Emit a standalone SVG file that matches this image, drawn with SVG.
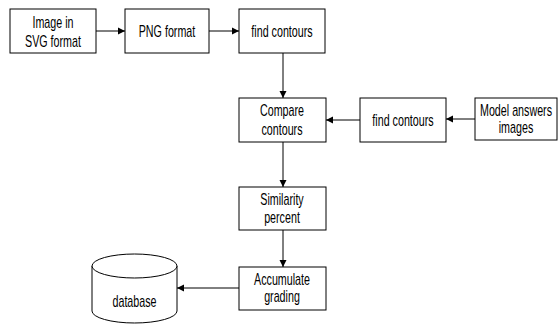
<svg xmlns="http://www.w3.org/2000/svg" width="560" height="325" viewBox="0 0 560 325">
<style>
.b{fill:#fff;stroke:#000;stroke-width:1}
.t{font-family:"Liberation Sans",Arial,sans-serif;font-size:16px;fill:#000;text-anchor:middle}
.c{stroke:#000;stroke-width:1;fill:none;marker-end:url(#a)}
</style>
<defs><marker id="a" markerWidth="8" markerHeight="8" refX="7" refY="4" orient="auto" markerUnits="userSpaceOnUse"><path d="M0,0.5 L7,4 L0,7.5 Z" fill="#000"/></marker></defs>
<rect width="560" height="325" fill="#fff"/>
<g id="connectors">
<line class="c" x1="96" y1="31" x2="125" y2="31"/>
<line class="c" x1="209" y1="31" x2="239" y2="31"/>
<line class="c" x1="283" y1="53" x2="283" y2="98"/>
<line class="c" x1="475" y1="119" x2="446" y2="119"/>
<line class="c" x1="360" y1="120" x2="326" y2="120"/>
<line class="c" x1="283" y1="142" x2="283" y2="187"/>
<line class="c" x1="283" y1="230" x2="283" y2="267"/>
<line class="c" x1="239" y1="288" x2="177" y2="288"/>
</g>
<g id="n1"><rect class="b" x="10" y="9" width="86" height="44"/><text class="t" transform="translate(53,28) scale(0.67,1)">Image in</text><text class="t" transform="translate(53,47) scale(0.67,1)">SVG format</text></g>
<g id="n2"><rect class="b" x="125" y="9" width="84" height="44"/><text class="t" transform="translate(167,37) scale(0.67,1)">PNG format</text></g>
<g id="n3"><rect class="b" x="239" y="9" width="86" height="44"/><text class="t" transform="translate(282,37) scale(0.67,1)">find contours</text></g>
<g id="n4"><rect class="b" x="239" y="98" width="87" height="44"/><text class="t" transform="translate(282,116) scale(0.67,1)">Compare</text><text class="t" transform="translate(282,135) scale(0.67,1)">contours</text></g>
<g id="n5"><rect class="b" x="360" y="98" width="86" height="44"/><text class="t" transform="translate(403,126) scale(0.67,1)">find contours</text></g>
<g id="n6"><rect class="b" x="475" y="98" width="82" height="42"/><text class="t" transform="translate(516,116) scale(0.67,1)">Model answers</text><text class="t" transform="translate(516,133) scale(0.67,1)">images</text></g>
<g id="n7"><rect class="b" x="239" y="187" width="87" height="43"/><text class="t" transform="translate(282,205) scale(0.67,1)">Similarity</text><text class="t" transform="translate(282,223) scale(0.67,1)">percent</text></g>
<g id="n8"><rect class="b" x="239" y="267" width="87" height="43"/><text class="t" transform="translate(282,285) scale(0.67,1)">Accumulate</text><text class="t" transform="translate(282,302) scale(0.67,1)">grading</text></g>
<g id="n9"><path class="b" d="M92,266 L92,311 A42.5,12 0 0 0 177,311 L177,266"/><ellipse class="b" cx="134.5" cy="266" rx="42.5" ry="12"/><text class="t" transform="translate(134.5,307) scale(0.67,1)">database</text></g>
</svg>
